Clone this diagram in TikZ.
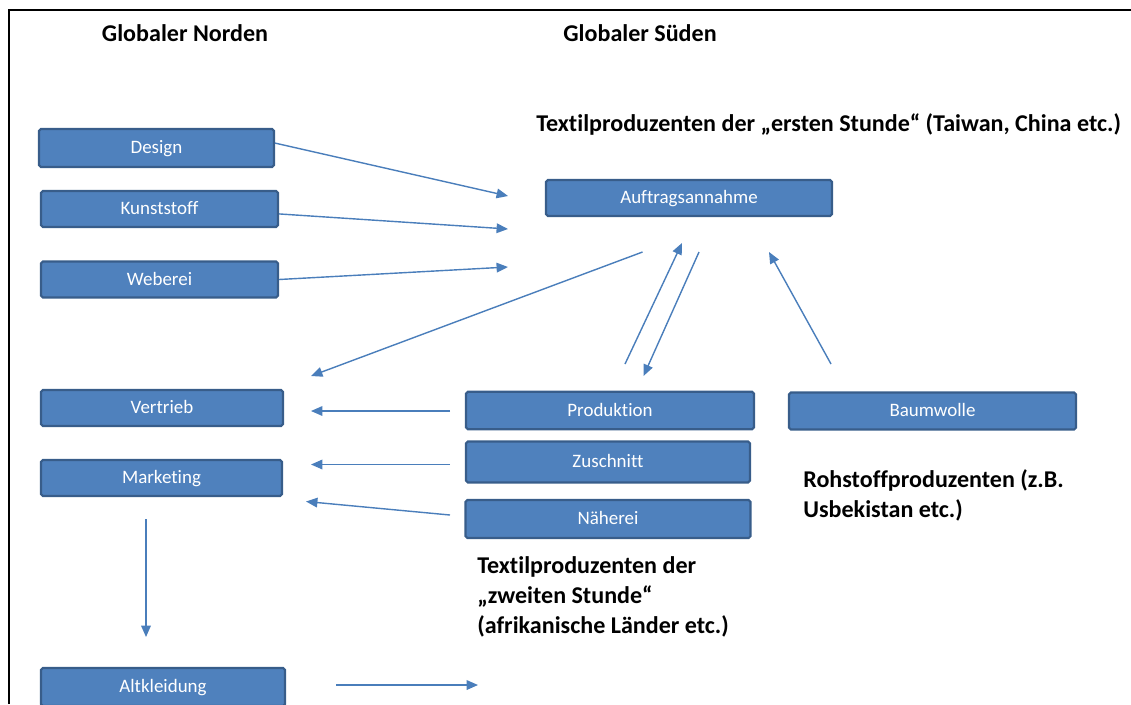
\documentclass[tikz,border=0pt]{standalone}
\usepackage{fontspec}
\setmainfont{Carlito}[Ligatures=NoCommon]
\usetikzlibrary{arrows.meta}
\definecolor{boxfill}{RGB}{79,129,189}
\definecolor{boxline}{RGB}{56,93,138}
\definecolor{flowblue}{RGB}{74,126,187}

\tikzset{
  stage/.style={draw=boxline, line width=1.2pt, fill=boxfill, text=white,
                rounded corners=1pt, inner sep=0pt, minimum height=0.72cm,
                text height=8.1pt, text depth=1.6pt,
                font=\fontsize{10.8}{12}\selectfont},
  flow/.style={flowblue, line width=0.8pt, -{Triangle[length=6.5pt,width=5.5pt]}},
  region/.style={anchor=base, inner sep=0pt,
                 font=\fontsize{13.7}{17}\selectfont\bfseries},
  group/.style={anchor=base west, align=left, inner sep=0pt,
                font=\fontsize{13.7}{17}\selectfont\bfseries}
}

\begin{document}
\begin{tikzpicture}[x=0.02cm, y=-0.02cm]
    \useasboundingbox (0,0) rectangle (1131,704);

    % frame
    \draw[line width=1.2pt] (9,704) -- (9,10) -- (1131,10);

    % headings (base of last line)
    \node[region] (north) at (185,41) {Globaler Norden};
    \node[region] (south) at (640,41) {Globaler Süden};
    \node[group] (first)  at (536,131)
      {Textilproduzenten der „ersten Stunde“ (Taiwan, China etc.)};
    \node[group] (raw)    at (803,517)
      {Rohstoffproduzenten (z.B.\\Usbekistan etc.)};
    \node[group] (second) at (477,633)
      {Textilproduzenten der\\„zweiten Stunde“\\(afrikanische Länder etc.)};

    % north boxes
    \node[stage, minimum width=4.70cm, minimum height=0.76cm] (design)  at (156.5,148) {Design};
    \node[stage, minimum width=4.74cm] (plastic) at (159.5,209) {Kunststoff};
    \node[stage, minimum width=4.74cm] (weaving) at (159.5,279.5) {Weberei};
    \node[stage, minimum width=4.84cm] (sales)   at (162,408) {Vertrieb};
    \node[stage, minimum width=4.82cm] (mkt)     at (161.5,478) {Marketing};
    \node[stage, minimum width=4.88cm, minimum height=0.76cm] (used) at (163,687) {Altkleidung};

    % south boxes
    \node[stage, minimum width=5.72cm] (orders)  at (689,198) {Auftragsannahme};
    \node[stage, minimum width=5.76cm, minimum height=0.75cm] (prod) at (610,410.5) {Produktion};
    \node[stage, minimum width=5.68cm, minimum height=0.82cm] (cut)  at (608,462) {Zuschnitt};
    \node[stage, minimum width=5.70cm, minimum height=0.76cm] (sew)  at (608,519) {Näherei};
    \node[stage, minimum width=5.74cm, minimum height=0.74cm] (cotton) at (932.5,411) {Baumwolle};

    % free arrow ends
    \coordinate (in1) at (508,196);
    \coordinate (in2) at (508,229);
    \coordinate (in3) at (508,267);
    \coordinate (o1)  at (642.5,252);
    \coordinate (o2)  at (311,376);
    \coordinate (p1)  at (625,364);
    \coordinate (p2)  at (682,243);
    \coordinate (q1)  at (699,252);
    \coordinate (q2)  at (643.5,376);
    \coordinate (b1)  at (831,364);
    \coordinate (b2)  at (769,252);
    \coordinate (s1)  at (450,411);
    \coordinate (s2)  at (311,411);
    \coordinate (m1)  at (450,464.5);
    \coordinate (m2)  at (311,464.5);
    \coordinate (n1)  at (450,515);
    \coordinate (n2)  at (306,501.5);
    \coordinate (k1)  at (146,519);
    \coordinate (k2)  at (146,637);
    \coordinate (a1)  at (336,685);
    \coordinate (a2)  at (478,685);

    % arrows
    \draw[flow] ([yshift=2.8pt]design.east) -- (in1);
    \draw[flow] ([yshift=-2.8pt]plastic.east) -- (in2);
    \draw[flow] (weaving.east) -- (in3);
    \draw[flow] (o1) -- (o2);
    \draw[flow] (p1) -- (p2);
    \draw[flow] (q1) -- (q2);
    \draw[flow] (b1) -- (b2);
    \draw[flow] (s1) -- (s2);
    \draw[flow] (m1) -- (m2);
    \draw[flow] (n1) -- (n2);
    \draw[flow] (k1) -- (k2);
    \draw[flow] (a1) -- (a2);
\end{tikzpicture}
\end{document}
